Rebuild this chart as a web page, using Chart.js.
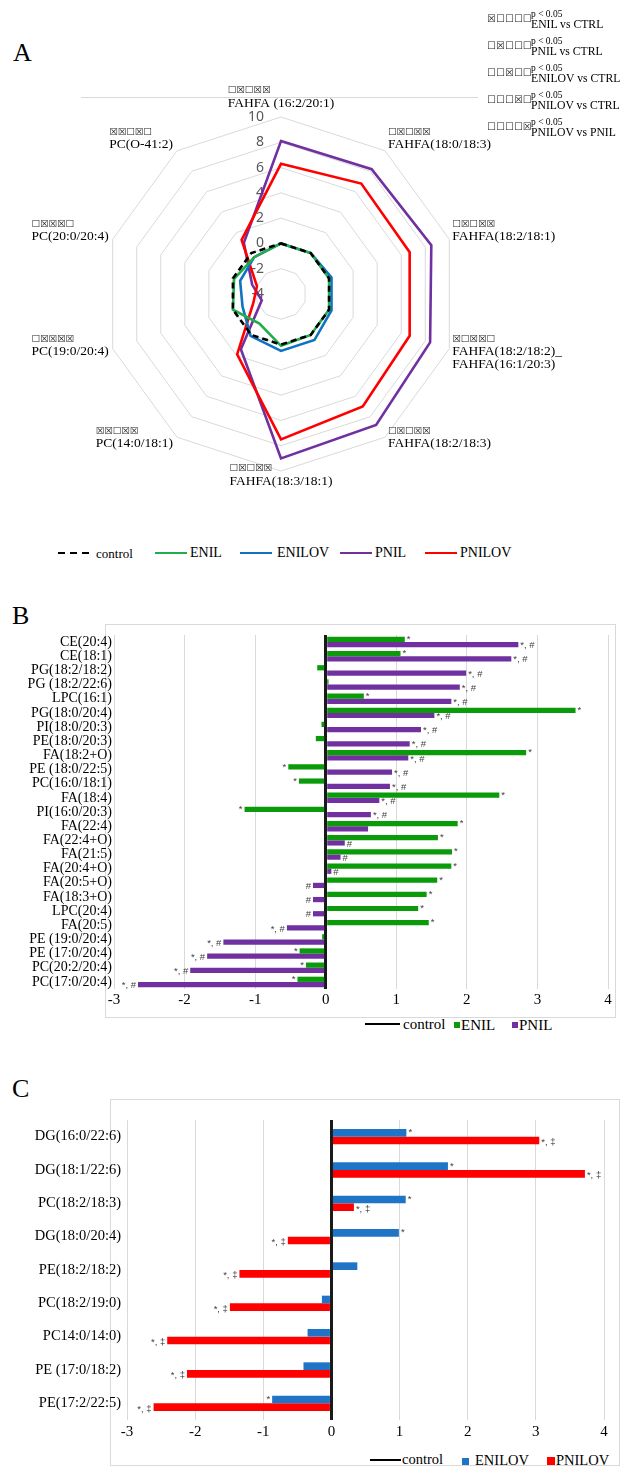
<!DOCTYPE html>
<html lang="en">
<head>
  <meta charset="UTF-8">
  <meta name="viewport" content="width=device-width, initial-scale=1.0">
  <title>Lipidos | Figura</title>
  <script src="https://cdn.jsdelivr.net/npm/chart.js"></script>
  <style>
    body { margin: 0; background: #fff; }
    #page { position: relative; width: 621px; height: 1473px; overflow: hidden;
            font-family: "Liberation Serif", "Times New Roman", serif; color: #000; }
    .abs { position: absolute; white-space: nowrap; line-height: 1; }
    .letter { font-size: 26px; }
    .frame { position: absolute; border: 1px solid #d9d9d9; box-sizing: border-box; }
    .ballot { font-family: "DejaVu Sans"; font-size: 10px; color: #222; }
    .sw { position: absolute; }
    canvas { position: absolute; left: 0; }
  </style>
</head>
<body>
<div id="page">
  <div class="abs letter" style="left:13px;top:40px">A</div>
  <div class="abs letter" style="left:12px;top:603px">B</div>
  <div class="abs letter" style="left:12px;top:1076px">C</div>
  <div class="sw" style="left:81px;top:97px;width:397px;height:1px;background:#d9d9d9"></div>

  <div class="frame" style="left:105px;top:624px;width:511px;height:394px"></div>
  <div class="frame" style="left:110px;top:1099px;width:510px;height:367px"></div>

  <canvas id="radar" width="621" height="520" style="top:0"></canvas>
  <canvas id="barsB" width="621" height="390" style="top:620px"></canvas>
  <canvas id="barsC" width="621" height="337" style="top:1105px"></canvas>
</div>

<script>
  // ---- panel A (radar) ----
  const radarAxes = [
    ['FAHFA (16:2/20:1)'],
    ['FAHFA(18:0/18:3)'],
    ['FAHFA(18:2/18:1)'],
    ['FAHFA(18:2/18:2)_', 'FAHFA(16:1/20:3)'],
    ['FAHFA(18:2/18:3)'],
    ['FAHFA(18:3/18:1)'],
    ['PC(14:0/18:1)'],
    ['PC(19:0/20:4)'],
    ['PC(20:0/20:4)'],
    ['PC(O-41:2)']
  ]
  const radarSig = ['☐☒☐☒☒', '☐☒☐☒☒', '☐☒☐☒☒', '☒☐☒☒☐', '☐☒☐☒☒',
                    '☐☒☐☒☒', '☒☒☐☒☒', '☐☒☒☒☒', '☐☒☒☒☐', '☒☒☐☒☐']
  const radarTicks = [-4, 10, 2] // min, max, step
  const controlA = [0, 0, 0, 0, 0, 0, 0, 0, 0, 0]
  const enilA = [0.0, 0.0, 0.0, 0.0, 0.0, 0.1, -1.1, 0.0, -0.1, -0.4]
  const enilovA = [0.0, 0.0, 0.2, 0.2, 0.5, 0.5, 0.1, -0.8, -0.6, -0.4]
  const pnilA = [8.1, 8.2, 8.5, 8.4, 8.8, 9.0, 1.4, -2.4, -1.6, 1.0]
  const pnilovA = [6.3, 6.8, 6.7, 6.7, 7.0, 7.5, 1.9, -1.7, -2.0, 1.3]
  const groupsA = ['control', 'ENIL', 'ENILOV', 'PNIL', 'PNILOV']
  const sigLegend = ['ENIL vs CTRL', 'PNIL vs CTRL', 'ENILOV vs CTRL', 'PNILOV vs CTRL', 'PNILOV vs PNIL']

  // ---- panel B ----
  const lipidsB = ['CE(20:4)', 'CE(18:1)', 'PG(18:2/18:2)', 'PG (18:2/22:6)', 'LPC(16:1)',
    'PG(18:0/20:4)', 'PI(18:0/20:3)', 'PE(18:0/20:3)', 'FA(18:2+O)', 'PE (18:0/22:5)',
    'PC(16:0/18:1)', 'FA(18:4)', 'PI(16:0/20:3)', 'FA(22:4)', 'FA(22:4+O)', 'FA(21:5)',
    'FA(20:4+O)', 'FA(20:5+O)', 'FA(18:3+O)', 'LPC(20:4)', 'FA(20:5)', 'PE (19:0/20:4)',
    'PE (17:0/20:4)', 'PC(20:2/20:4)', 'PC(17:0/20:4)']
  const enilB = [1.12, 1.06, -0.12, 0.04, 0.54, 3.54, -0.06, -0.14, 2.84, -0.53, -0.38, 2.46,
    -1.15, 1.87, 1.59, 1.79, 1.78, 1.58, 1.43, 1.31, 1.46, -0.05, -0.37, -0.28, -0.40]
  const pnilB = [2.73, 2.63, 1.99, 1.90, 1.78, 1.54, 1.35, 1.19, 1.17, 0.94, 0.91, 0.76,
    0.64, 0.60, 0.27, 0.21, 0.08, -0.18, -0.18, -0.18, -0.55, -1.45, -1.68, -1.92, -2.66]
  const enilMarksB = ['*', '*', '', '', '*', '*', '', '', '*', '*', '*', '*', '*', '*', '*',
    '*', '*', '*', '*', '*', '*', '', '*', '*', '*']
  const pnilMarksB = ['*, #', '*, #', '*, #', '*, #', '*, #', '*, #', '*, #', '*, #', '*, #',
    '*, #', '*, #', '*, #', '*, #', '', '#', '#', '#', '#', '#', '#', '*, #', '*, #', '*, #',
    '*, #', '*, #']
  const groupsB = ['control', 'ENIL', 'PNIL']

  // ---- panel C ----
  const lipidsC = ['DG(16:0/22:6)', 'DG(18:1/22:6)', 'PC(18:2/18:3)', 'DG(18:0/20:4)',
    'PE(18:2/18:2)', 'PC(18:2/19:0)', 'PC14:0/14:0)', 'PE (17:0/18:2)', 'PE(17:2/22:5)']
  const enilovC = [1.10, 1.71, 1.09, 0.99, 0.38, -0.14, -0.35, -0.41, -0.87]
  const pnilovC = [3.05, 3.72, 0.33, -0.64, -1.35, -1.49, -2.41, -2.12, -2.61]
  const enilovMarksC = ['*', '*', '*', '*', '', '', '', '', '*']
  const pnilovMarksC = ['*, ‡', '*, ‡', '*, ‡', '*, ‡', '*, ‡', '*, ‡', '*, ‡', '*, ‡', '*, ‡']
  const groupsC = ['control', 'ENILOV', 'PNILOV']
  const barTicks = [-3, 4, 1]

  const cores = { control: '#000', ENIL: '#1fae4b', ENILOV: '#0f72c2', PNIL: '#7030a0', PNILOV: '#ff0000' }
  const coresBarra = { ENIL: '#0a9a0a', PNIL: '#7030a0', ENILOV: '#1f74c6', PNILOV: '#ff0000' }

  const page = document.getElementById('page')
  function addText(x, y, txt, size, extra) {
    const d = document.createElement('div')
    d.className = 'abs'
    d.style.left = x + 'px'
    d.style.top = (y - size / 2) + 'px'
    d.style.fontSize = size + 'px'
    if (extra) d.style.cssText += extra
    d.textContent = txt
    page.appendChild(d)
  }
  function addSwatch(x, y, w, h, bg) {
    const d = document.createElement('div')
    d.className = 'sw'
    d.style.cssText += 'left:' + x + 'px;top:' + (y - h / 2) + 'px;width:' + w + 'px;height:' + h + 'px;background:' + bg
    page.appendChild(d)
  }

  // significance key (top right)
  for (var i = 0; i < sigLegend.length; i++) {
    var y = 25 + i * 27
    var marca = ''
    for (var k = 0; k < 5; k++) marca += (k === i ? '☒' : '☐')
    var b = document.createElement('div')
    b.className = 'abs ballot'
    b.style.left = '487px'
    b.style.top = (y - 11) + 'px'
    b.textContent = marca
    page.appendChild(b)
    addText(531, y - 10, 'p < 0.05', 9.5)
    addText(531, y, sigLegend[i], 11.7)
  }

  // legend A
  var legA = [[58, 96], [155, 190], [240, 277], [340, 375], [425, 460]]
  for (var i = 0; i < groupsA.length; i++) {
    var g = groupsA[i]
    var bg = g === 'control' ? 'repeating-linear-gradient(90deg,#000 0 7px,transparent 7px 12px)' : cores[g]
    addSwatch(legA[i][0], 553, 32, 2.5, bg)
    addText(legA[i][1], 553, g, g === 'control' ? 13 : 14)
  }
  // legend B
  addSwatch(365, 1024, 35, 2, '#000')
  addText(403, 1024, groupsB[0], 15)
  addSwatch(454, 1025, 6, 6, coresBarra.ENIL)
  addText(461, 1025, groupsB[1], 15)
  addSwatch(512, 1025, 6, 6, coresBarra.PNIL)
  addText(519, 1025, groupsB[2], 15)
  // legend C
  addSwatch(370, 1460, 31, 2, '#000')
  addText(402, 1459, groupsC[0], 14.5)
  addSwatch(462, 1461, 7, 7, coresBarra.ENILOV)
  addText(475, 1460, groupsC[1], 14.5)
  addSwatch(547, 1461, 8, 8, coresBarra.PNILOV)
  addText(556, 1460, groupsC[2], 14.5)

  // tick labels + spoke labels for the radar
  const radarText = {
    id: 'radarText',
    beforeDatasetsDraw(chart) {
      const r = chart.scales.r
      const ctx = chart.ctx
      ctx.save()
      ctx.font = '14px "Noto Sans"'
      ctx.fillStyle = '#595959'
      ctx.textAlign = 'right'
      ctx.textBaseline = 'middle'
      r.ticks.forEach(t => {
        const p = r.getPointPositionForValue(0, t.value)
        ctx.fillText(t.label, r.xCenter - 17, p.y)
      })
      const n = chart.data.labels.length
      chart.data.labels.forEach((lines, i) => {
        const p = r.getPointPosition(i, r.drawingArea)
        const a = i * 2 * Math.PI / n
        const s = Math.sin(a), c = Math.cos(a)
        ctx.font = '13.5px "Liberation Serif"'
        ctx.fillStyle = '#000'
        const w = Math.max(...lines.map(l => ctx.measureText(l).width))
        let x0 = Math.abs(s) < 0.1 ? p.x - w / 2 : (s > 0 ? p.x + 3 : p.x - 4 - w)
        let y0 = c > 0.9 ? p.y - 14 : (c < -0.9 ? p.y + 10 : p.y - 8 * c)
        ctx.textAlign = s < -0.1 ? 'right' : 'left'
        lines.forEach((l, k) => ctx.fillText(l, s < -0.1 ? x0 + w : x0, y0 + k * 13))
        ctx.font = '9.5px "DejaVu Sans"'
        ctx.fillStyle = '#222'
        ctx.textAlign = 'left'
        ctx.fillText(radarSig[i], x0, y0 - 12)
      })
      ctx.restore()
    }
  }

  // significance marks at bar ends
  function markPlugin(marks, font, dy) {
    return {
      id: 'marks',
      afterDatasetsDraw(chart) {
        const ctx = chart.ctx
        ctx.save()
        ctx.font = font
        ctx.fillStyle = '#404040'
        ctx.textBaseline = 'middle'
        chart.data.datasets.forEach((ds, di) => {
          chart.getDatasetMeta(di).data.forEach((bar, i) => {
            const txt = marks[di][i]
            if (!txt) return
            const neg = ds.data[i] < 0
            ctx.textAlign = neg ? 'right' : 'left'
            ctx.fillText(txt, bar.x + (neg ? -2 : 2), bar.y + dy[di])
          })
        })
        ctx.restore()
      }
    }
  }

  const zeroColor = c => (c.tick && c.tick.value === 0) ? '#1a1a1a' : '#d9d9d9'
  const zeroWidth = c => (c.tick && c.tick.value === 0) ? 3 : 1

  new Chart(document.getElementById('radar'), {
    type: 'radar',
    data: {
      labels: radarAxes,
      datasets: [
        { label: groupsA[0], data: controlA, borderColor: cores.control, borderDash: [6, 4] },
        { label: groupsA[1], data: enilA, borderColor: cores.ENIL },
        { label: groupsA[2], data: enilovA, borderColor: cores.ENILOV },
        { label: groupsA[4], data: pnilovA, borderColor: cores.PNILOV },
        { label: groupsA[3], data: pnilA, borderColor: cores.PNIL }
      ]
    },
    options: {
      responsive: false,
      animation: false,
      devicePixelRatio: 1,
      layout: { padding: { left: 104, top: 117, right: 163, bottom: 49 } },
      elements: {
        line: { borderWidth: 2.6, tension: 0, fill: false },
        point: { radius: 0, hoverRadius: 0 }
      },
      plugins: { legend: { display: false }, tooltip: { enabled: false } },
      scales: {
        r: {
          min: radarTicks[0],
          max: radarTicks[1],
          ticks: { stepSize: radarTicks[2], display: false },
          grid: { color: '#d9d9d9', lineWidth: 1 },
          angleLines: { display: false },
          pointLabels: { display: false }
        }
      }
    },
    plugins: [radarText]
  })

  new Chart(document.getElementById('barsB'), {
    type: 'bar',
    data: {
      labels: lipidsB,
      datasets: [
        { label: groupsB[1], data: enilB, backgroundColor: coresBarra.ENIL },
        { label: groupsB[2], data: pnilB, backgroundColor: coresBarra.PNIL }
      ]
    },
    options: {
      indexAxis: 'y',
      responsive: false,
      animation: false,
      devicePixelRatio: 1,
      layout: { padding: { top: 15, right: 13, left: 0, bottom: 0 } },
      datasets: { bar: { categoryPercentage: 0.74, barPercentage: 1 } },
      plugins: { legend: { display: false }, tooltip: { enabled: false } },
      scales: {
        x: {
          min: barTicks[0], max: barTicks[1],
          ticks: { stepSize: barTicks[2], color: '#000', font: { family: 'Liberation Serif', size: 15 }, padding: 2 },
          grid: { color: zeroColor, lineWidth: zeroWidth, drawTicks: false },
          border: { display: false },
          afterFit: s => { s.height = 21 }
        },
        y: {
          ticks: { autoSkip: false, color: '#000', font: { family: 'Liberation Serif', size: 14 }, padding: 2 },
          grid: { display: false, drawTicks: false },
          border: { display: false },
          afterFit: s => { s.width = 114 }
        }
      }
    },
    plugins: [markPlugin([enilMarksB, pnilMarksB], '9.5px "Liberation Sans"', [0, 1])]
  })

  new Chart(document.getElementById('barsC'), {
    type: 'bar',
    data: {
      labels: lipidsC,
      datasets: [
        { label: groupsC[1], data: enilovC, backgroundColor: coresBarra.ENILOV },
        { label: groupsC[2], data: pnilovC, backgroundColor: coresBarra.PNILOV }
      ]
    },
    options: {
      indexAxis: 'y',
      responsive: false,
      animation: false,
      devicePixelRatio: 1,
      layout: { padding: { top: 15, right: 17, left: 0, bottom: 0 } },
      datasets: { bar: { categoryPercentage: 0.46, barPercentage: 1 } },
      plugins: { legend: { display: false }, tooltip: { enabled: false } },
      scales: {
        x: {
          min: barTicks[0], max: barTicks[1],
          ticks: { stepSize: barTicks[2], color: '#000', font: { family: 'Liberation Serif', size: 15 }, padding: 3 },
          grid: { color: zeroColor, lineWidth: zeroWidth, drawTicks: false },
          border: { display: false },
          afterFit: s => { s.height = 22 }
        },
        y: {
          ticks: { autoSkip: false, color: '#000', font: { family: 'Liberation Serif', size: 14.5 }, padding: 6 },
          grid: { display: false, drawTicks: false },
          border: { display: false },
          afterFit: s => { s.width = 127 }
        }
      }
    },
    plugins: [markPlugin([enilovMarksC, pnilovMarksC], '9.5px "Liberation Sans"', [0, 2])]
  })
</script>
</body>
</html>
